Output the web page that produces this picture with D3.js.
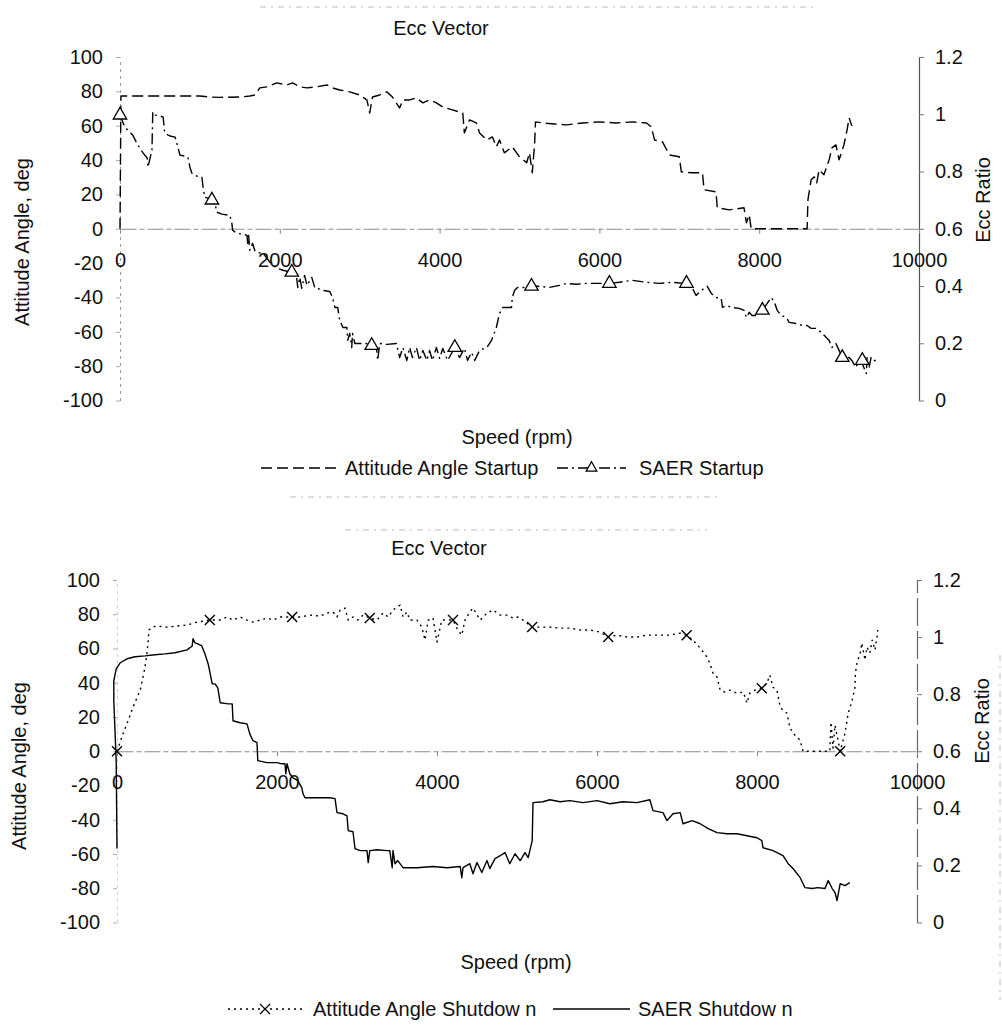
<!DOCTYPE html>
<html>
<head>
<meta charset="utf-8">
<script src="https://cdn.jsdelivr.net/npm/d3@7"></script>
<style>
  body { margin: 0; background: #fff; }
  svg { display: block; font-family: "Liberation Sans", Arial, sans-serif; }
</style>
</head>
<body>
<svg id="chart" width="1002" height="1030"></svg>
<script>
// ---- tick values ----
const speedTicks = [0, 2000, 4000, 6000, 8000, 10000];
const angleTicks = [100, 80, 60, 40, 20, 0, -20, -40, -60, -80, -100];
const ratioTicks = [1.2, 1, 0.8, 0.6, 0.4, 0.2, 0];

// ---- startup run: [speed rpm, attitude angle deg] ----
const attitudeStartup = [
  [0,0],[12,77.3],[1000,77.3],[1125,76.7],[1250,76.5],[1500,76.7],[1625,77.3],[1690,77.9],
  [1750,82.0],[1840,82.6],[1960,84.9],[2090,83.7],[2160,84.9],[2250,82.6],[2340,82.0],[2460,82.6],
  [2590,83.7],[2660,82.0],[2750,80.8],[2875,79.7],[3000,77.9],[3090,75.0],[3125,67.4],[3160,76.7],
  [3250,77.9],[3340,79.7],[3410,76.7],[3500,70.3],[3540,75.0],[3625,75.0],[3710,76.2],[3790,73.3],
  [3875,75.0],[3960,73.3],[4040,70.9],[4160,69.2],[4290,67.4],[4310,55.8],[4375,63.4],[4460,61.6],
  [4500,55.8],[4590,51.7],[4660,53.5],[4710,47.7],[4750,51.7],[4810,44.2],[4910,47.7],[5000,41.9],
  [5090,38.4],[5125,44.2],[5160,32.6],[5190,50.0],[5200,62.2],[5290,61.6],[5440,61.0],[5590,60.5],
  [5790,61.6],[6000,62.2],[6210,61.6],[6410,62.2],[6590,61.6],[6650,59.3],[6690,51.7],[6790,50.6],
  [6875,43.0],[7000,41.9],[7025,33.1],[7160,32.6],[7290,32.6],[7310,22.7],[7460,21.5],[7475,12.2],
  [7625,11.0],[7810,12.2],[7840,3.5],[7875,8.1],[7900,0],[7960,0],[8600,0],[8610,16.9],
  [8650,28.5],[8690,30.2],[8720,26.7],[8750,34.3],[8810,31.4],[8875,40.1],[8910,47.1],[8960,48.8],
  [9000,40.1],[9060,48.8],[9100,57.6],[9125,64.5],[9160,59.9]
];

// ---- startup run: [speed rpm, SAER eccentricity ratio] ----
const saerStartup = [
  [0,0.997],[60,0.955],[160,0.927],[210,0.899],[290,0.864],[340,0.847],[350,0.815],[400,0.875],
  [410,1.008],[440,0.997],[500,0.994],[540,0.990],[560,0.934],[625,0.924],[690,0.920],[725,0.885],
  [750,0.857],[810,0.854],[850,0.850],[875,0.815],[900,0.794],[960,0.784],[1025,0.780],[1040,0.745],
  [1060,0.710],[1100,0.707],[1150,0.700],[1190,0.689],[1210,0.658],[1275,0.651],[1375,0.647],[1400,0.619],
  [1410,0.595],[1460,0.584],[1540,0.581],[1590,0.577],[1600,0.542],[1610,0.577],[1625,0.525],[1660,0.549],
  [1690,0.521],[1710,0.518],[1790,0.514],[1840,0.497],[1875,0.483],[1960,0.462],[2040,0.455],[2150,0.448],
  [2210,0.430],[2225,0.395],[2250,0.430],[2275,0.392],[2310,0.437],[2340,0.402],[2400,0.430],[2440,0.392],
  [2475,0.392],[2525,0.385],[2625,0.381],[2660,0.360],[2690,0.325],[2725,0.325],[2750,0.280],[2790,0.255],
  [2840,0.255],[2850,0.210],[2875,0.234],[2900,0.185],[2910,0.234],[2940,0.199],[3000,0.199],[3090,0.199],
  [3150,0.192],[3210,0.185],[3225,0.140],[3250,0.199],[3340,0.196],[3460,0.199],[3500,0.150],[3540,0.185],
  [3590,0.140],[3625,0.185],[3660,0.150],[3710,0.185],[3750,0.140],[3790,0.175],[3840,0.140],[3875,0.175],
  [3910,0.140],[3960,0.185],[4000,0.147],[4040,0.182],[4100,0.140],[4190,0.185],[4250,0.150],[4310,0.182],
  [4350,0.140],[4400,0.168],[4440,0.140],[4500,0.175],[4590,0.185],[4650,0.210],[4710,0.255],[4750,0.304],
  [4790,0.325],[4900,0.325],[4910,0.360],[4940,0.385],[4975,0.395],[5060,0.395],[5150,0.399],[5250,0.399],
  [5375,0.395],[5500,0.402],[5590,0.409],[5710,0.406],[5840,0.409],[5960,0.409],[6125,0.409],[6250,0.413],
  [6410,0.420],[6590,0.413],[6750,0.409],[6910,0.413],[7090,0.409],[7160,0.395],[7210,0.367],[7250,0.378],
  [7310,0.392],[7350,0.399],[7400,0.374],[7460,0.360],[7525,0.357],[7540,0.325],[7590,0.332],[7660,0.325],
  [7750,0.322],[7810,0.315],[7840,0.290],[7875,0.308],[7910,0.297],[7960,0.297],[8040,0.315],[8100,0.339],
  [8150,0.360],[8190,0.343],[8225,0.315],[8275,0.297],[8340,0.290],[8375,0.273],[8460,0.269],[8540,0.262],
  [8600,0.262],[8650,0.252],[8710,0.252],[8775,0.238],[8840,0.220],[8875,0.210],[8910,0.185],[8960,0.199],
  [9000,0.175],[9040,0.150],[9125,0.150],[9160,0.140],[9210,0.115],[9250,0.140],[9290,0.129],[9340,0.094],
  [9350,0.150],[9375,0.115],[9400,0.150],[9410,0.140],[9460,0.140],[9475,0.150]
];
const saerStartupMarks = [
  [0,0.997],[1150,0.700],[2150,0.448],[3150,0.192],[4190,0.185],[5150,0.399],
  [6125,0.409],[7090,0.409],[8040,0.315],[9040,0.150],[9290,0.140]
];

// ---- shutdown run: [speed rpm, attitude angle deg] ----
const attitudeShutdown = [
  [0,0],[60,8.2],[140,18.1],[200,25.7],[290,35.7],[325,43.3],[350,49.1],[375,57.3],
  [390,64.9],[400,70.8],[440,72.5],[500,73.1],[625,72.5],[750,73.1],[875,73.7],[1000,75.4],
  [1160,76.6],[1290,76.6],[1375,78.4],[1450,76.6],[1540,78.4],[1625,76.6],[1700,75.4],[1790,76.6],
  [1875,77.8],[1950,76.6],[2040,78.4],[2190,78.4],[2290,78.4],[2410,79.5],[2540,78.9],[2625,80.7],
  [2700,81.3],[2750,78.4],[2790,82.5],[2850,83.6],[2890,76.6],[2950,78.4],[3010,76.6],[3075,79.5],
  [3160,77.8],[3250,76.6],[3325,80.7],[3390,78.4],[3450,82.5],[3540,85.4],[3575,78.4],[3625,81.3],
  [3660,76.6],[3750,76.6],[3810,72.5],[3850,64.9],[3890,76.6],[3950,77.8],[4000,63.7],[4060,76.6],
  [4200,76.6],[4260,70.8],[4310,67.8],[4350,76.6],[4410,81.3],[4450,83.6],[4540,76.6],[4625,80.7],
  [4700,82.5],[4790,79.5],[4875,79.5],[4950,77.8],[5010,78.4],[5075,76.6],[5190,72.5],[5290,72.5],
  [5410,72.5],[5540,71.9],[5660,71.9],[5790,70.8],[5910,70.8],[6040,69.6],[6140,66.7],[6250,67.8],
  [6375,66.7],[6500,66.7],[6625,67.8],[6790,67.8],[6910,67.8],[7040,69.0],[7120,67.8],[7200,64.9],
  [7290,60.2],[7375,55.0],[7410,51.5],[7450,45.6],[7500,43.3],[7540,35.7],[7600,34.5],[7660,35.7],
  [7750,33.9],[7830,34.5],[7875,28.1],[7910,33.9],[7975,35.7],[8060,36.8],[8125,39.8],[8160,44.4],
  [8200,37.4],[8250,35.7],[8290,25.7],[8325,24.0],[8375,22.2],[8410,14.0],[8450,10.5],[8540,6.4],
  [8575,0],[8910,0],[8925,17.0],[8950,1.8],[8975,15.2],[9040,0],[9100,10.5],[9140,22.2],
  [9190,29.8],[9225,37.4],[9230,45.6],[9250,51.5],[9290,57.3],[9310,63.2],[9350,53.2],[9375,60.8],
  [9410,57.3],[9440,64.9],[9475,59.1],[9500,66.7],[9510,70.8]
];
const attitudeShutdownMarks = [
  [0,0],[1160,76.6],[2190,78.4],[3160,77.8],[4200,76.6],[5190,72.5],
  [6140,66.7],[7120,67.8],[8060,36.8],[9040,0]
];

// ---- shutdown run: [speed rpm, SAER eccentricity ratio] ----
const saerShutdown = [
  [0,0.259],[-10,0.567],[-40,0.777],[-40,0.847],[-10,0.889],[40,0.910],[125,0.924],[225,0.931],
  [350,0.934],[475,0.938],[600,0.941],[725,0.945],[875,0.955],[940,0.969],[950,0.994],[975,0.980],
  [1010,0.976],[1060,0.969],[1100,0.941],[1140,0.906],[1190,0.836],[1225,0.836],[1260,0.822],[1290,0.770],
  [1390,0.766],[1440,0.766],[1450,0.707],[1540,0.700],[1625,0.696],[1660,0.661],[1700,0.637],[1750,0.630],
  [1760,0.567],[1875,0.560],[2000,0.560],[2060,0.556],[2100,0.556],[2110,0.521],[2125,0.556],[2160,0.521],
  [2200,0.507],[2260,0.497],[2310,0.472],[2325,0.451],[2350,0.437],[2410,0.437],[2540,0.437],[2660,0.437],
  [2725,0.434],[2750,0.385],[2825,0.381],[2875,0.374],[2890,0.322],[2950,0.318],[2975,0.259],[3040,0.252],
  [3125,0.252],[3140,0.210],[3160,0.252],[3250,0.255],[3375,0.252],[3410,0.252],[3440,0.192],[3450,0.252],
  [3475,0.206],[3510,0.217],[3575,0.192],[3750,0.192],[3950,0.196],[4125,0.192],[4290,0.196],[4310,0.157],
  [4325,0.192],[4410,0.206],[4450,0.171],[4500,0.210],[4560,0.175],[4625,0.217],[4660,0.189],[4725,0.224],
  [4790,0.234],[4850,0.245],[4910,0.206],[4975,0.241],[5040,0.217],[5100,0.245],[5140,0.227],[5190,0.287],
  [5200,0.420],[5325,0.423],[5410,0.430],[5540,0.423],[5660,0.427],[5825,0.420],[6000,0.427],[6160,0.416],
  [6325,0.423],[6500,0.420],[6660,0.430],[6700,0.392],[6825,0.385],[6875,0.357],[6950,0.381],[7040,0.385],
  [7075,0.346],[7190,0.357],[7290,0.346],[7390,0.329],[7500,0.315],[7625,0.311],[7750,0.311],[7875,0.304],
  [8000,0.297],[8060,0.287],[8075,0.262],[8200,0.252],[8325,0.234],[8390,0.206],[8450,0.189],[8540,0.157],
  [8600,0.122],[8690,0.119],[8760,0.122],[8850,0.119],[8890,0.147],[8940,0.119],[8975,0.105],[9000,0.077],
  [9040,0.136],[9100,0.129],[9160,0.140]
];

// ---- text ----
const panelTitle = "Ecc Vector";
const speedTitle = "Speed (rpm)";
const angleTitle = "Attitude Angle, deg";
const ratioTitle = "Ecc Ratio";
const startupNames = ["Attitude Angle Startup", "SAER Startup"];
const shutdownNames = ["Attitude Angle Shutdow n", "SAER Shutdow n"];

const svg = d3.select("#chart");
const FONT = 20;

const triangle = d3.symbol().type(d3.symbolTriangle).size(78);
const crossPath = "M-5,-5L5,5M-5,5L5,-5";

function drawPanel(cfg) {
  const g = svg.append("g");
  const x = d3.scaleLinear().domain([0, 10000]).range([cfg.left, cfg.right]);
  const yA = d3.scaleLinear().domain([-100, 100]).range([cfg.bottom, cfg.top]);
  const yR = d3.scaleLinear().domain([0, 1.2]).range([cfg.bottom, cfg.top]);

  // left (angle) axis
  const la = g.append("g")
    .attr("transform", `translate(${cfg.left},0)`)
    .call(d3.axisLeft(yA).tickValues(angleTicks).tickFormat(d => String(d))
      .tickSize(4).tickPadding(13).tickSizeOuter(0));
  la.select(".domain").attr("stroke", cfg.leftAxisColor).attr("stroke-dasharray", "3,4");
  la.selectAll(".tick line").attr("stroke", "#aaa");

  // right (ratio) axis
  const ra = g.append("g")
    .attr("transform", `translate(${cfg.right},0)`)
    .call(d3.axisRight(yR).tickValues(ratioTicks).tickFormat(d => String(d))
      .tickSize(5).tickPadding(11).tickSizeOuter(0));
  ra.select(".domain").attr("stroke", cfg.rightAxisColor).attr("stroke-width", 1.2)
    .attr("stroke-dasharray", cfg.rightAxisDash);
  ra.selectAll(".tick line").attr("stroke", "#777");

  // speed axis crossing at zero angle
  const xa = g.append("g")
    .attr("transform", `translate(0,${yA(0)})`)
    .call(d3.axisBottom(x).tickValues(speedTicks).tickFormat(d => String(d))
      .tickSize(5).tickPadding(19).tickSizeOuter(0));
  xa.select(".domain").attr("stroke", "#8c8c8c").attr("stroke-dasharray", "16,3,5,3");
  xa.selectAll(".tick line").attr("stroke", "#888");

  [la, ra, xa].forEach(a => {
    a.attr("font-size", FONT).attr("font-family", null);
    a.selectAll("text").attr("fill", "#111");
  });

  // titles
  g.append("text").attr("x", cfg.titleX).attr("y", cfg.titleY).attr("dy", "0.35em")
    .attr("text-anchor", "middle").attr("font-size", FONT).attr("fill", "#111").text(panelTitle);
  g.append("text").attr("x", cfg.speedX).attr("y", cfg.speedY).attr("dy", "0.35em")
    .attr("text-anchor", "middle").attr("font-size", FONT).attr("fill", "#111").text(speedTitle);
  g.append("text").attr("transform", `translate(${cfg.angleTitleX},${cfg.angleTitleY}) rotate(-90)`)
    .attr("dy", "0.35em").attr("text-anchor", "middle").attr("font-size", FONT).attr("fill", "#111")
    .text(angleTitle);
  g.append("text").attr("transform", `translate(${cfg.ratioTitleX},${cfg.ratioTitleY}) rotate(-90)`)
    .attr("dy", "0.35em").attr("text-anchor", "middle").attr("font-size", FONT).attr("fill", "#111")
    .text(ratioTitle);

  // series
  const lineA = d3.line().x(d => x(d[0])).y(d => yA(d[1]));
  const lineR = d3.line().x(d => x(d[0])).y(d => yR(d[1]));

  g.append("path").datum(cfg.attitude).attr("d", lineA)
    .attr("fill", "none").attr("stroke", "#000").attr("stroke-width", 1.4)
    .attr("stroke-dasharray", cfg.attitudeDash).attr("stroke-linejoin", "round");
  g.append("path").datum(cfg.saer).attr("d", lineR)
    .attr("fill", "none").attr("stroke", "#000").attr("stroke-width", 1.4)
    .attr("stroke-dasharray", cfg.saerDash).attr("stroke-linejoin", "round");

  if (cfg.saerMarks) {
    g.selectAll(".tri").data(cfg.saerMarks).join("path")
      .attr("transform", d => `translate(${x(d[0])},${yR(d[1])})`)
      .attr("d", triangle).attr("fill", "#fff").attr("stroke", "#000").attr("stroke-width", 1.3);
  }
  if (cfg.attitudeMarks) {
    g.selectAll(".crs").data(cfg.attitudeMarks).join("path")
      .attr("transform", d => `translate(${x(d[0])},${yA(d[1])})`)
      .attr("d", crossPath).attr("fill", "none").attr("stroke", "#000").attr("stroke-width", 1.4);
  }

  // legend
  const L = cfg.legend;
  const lg = g.append("g").attr("font-size", FONT).attr("fill", "#111");
  lg.append("line").attr("x1", L.s1[0]).attr("x2", L.s1[1]).attr("y1", L.y).attr("y2", L.y)
    .attr("stroke", "#000").attr("stroke-width", 1.3).attr("stroke-dasharray", cfg.attitudeDash);
  lg.append("text").attr("x", L.t1).attr("y", L.y).attr("dy", "0.35em").text(L.names[0]);
  lg.append("line").attr("x1", L.s2[0]).attr("x2", L.s2[1]).attr("y1", L.y).attr("y2", L.y)
    .attr("stroke", "#000").attr("stroke-width", 1.3).attr("stroke-dasharray", cfg.saerDash);
  lg.append("text").attr("x", L.t2).attr("y", L.y).attr("dy", "0.35em").text(L.names[1]);
  if (cfg.saerMarks) {
    lg.append("path").attr("transform", `translate(${(L.s2[0] + L.s2[1]) / 2},${L.y})`)
      .attr("d", d3.symbol().type(d3.symbolTriangle).size(50))
      .attr("fill", "#fff").attr("stroke", "#000").attr("stroke-width", 1.2);
  }
  if (cfg.attitudeMarks) {
    lg.append("path").attr("transform", `translate(${(L.s1[0] + L.s1[1]) / 2},${L.y})`)
      .attr("d", crossPath).attr("fill", "none").attr("stroke", "#000").attr("stroke-width", 1.3);
  }

  // faint frame remnants
  cfg.frame.forEach(f => {
    g.append("line").attr("x1", f[0]).attr("y1", f[1]).attr("x2", f[2]).attr("y2", f[3])
      .attr("stroke", "#bbb").attr("stroke-width", 1).attr("stroke-dasharray", "6,5,2,5");
  });
}

drawPanel({
  left: 120, right: 919, top: 57, bottom: 400.5,
  leftAxisColor: "#9a9a9a", rightAxisColor: "#555", rightAxisDash: null,
  titleX: 441, titleY: 28, speedX: 517, speedY: 437,
  angleTitleX: 22, angleTitleY: 242, ratioTitleX: 983, ratioTitleY: 200,
  attitude: attitudeStartup, saer: saerStartup, saerMarks: saerStartupMarks,
  attitudeDash: "11,5", saerDash: "11,4,2,4",
  legend: { y: 468, s1: [261, 340], t1: 345, s2: [557, 626], t2: 639, names: startupNames },
  frame: [[260, 7, 818, 7], [290, 497, 720, 497]]
});

drawPanel({
  left: 117, right: 917, top: 580, bottom: 922.5,
  leftAxisColor: "#d0d0d0", rightAxisColor: "#666", rightAxisDash: "28,5",
  titleX: 439, titleY: 548, speedX: 516, speedY: 962,
  angleTitleX: 19, angleTitleY: 766, ratioTitleX: 982, ratioTitleY: 721,
  attitude: attitudeShutdown, saer: saerShutdown, attitudeMarks: attitudeShutdownMarks,
  attitudeDash: "2,4", saerDash: null,
  legend: { y: 1009, s1: [228, 302], t1: 313, s2: [553, 630], t2: 638, names: shutdownNames },
  frame: [[345, 530, 707, 530], [1000, 655, 1000, 1000]]
});
</script>
</body>
</html>
